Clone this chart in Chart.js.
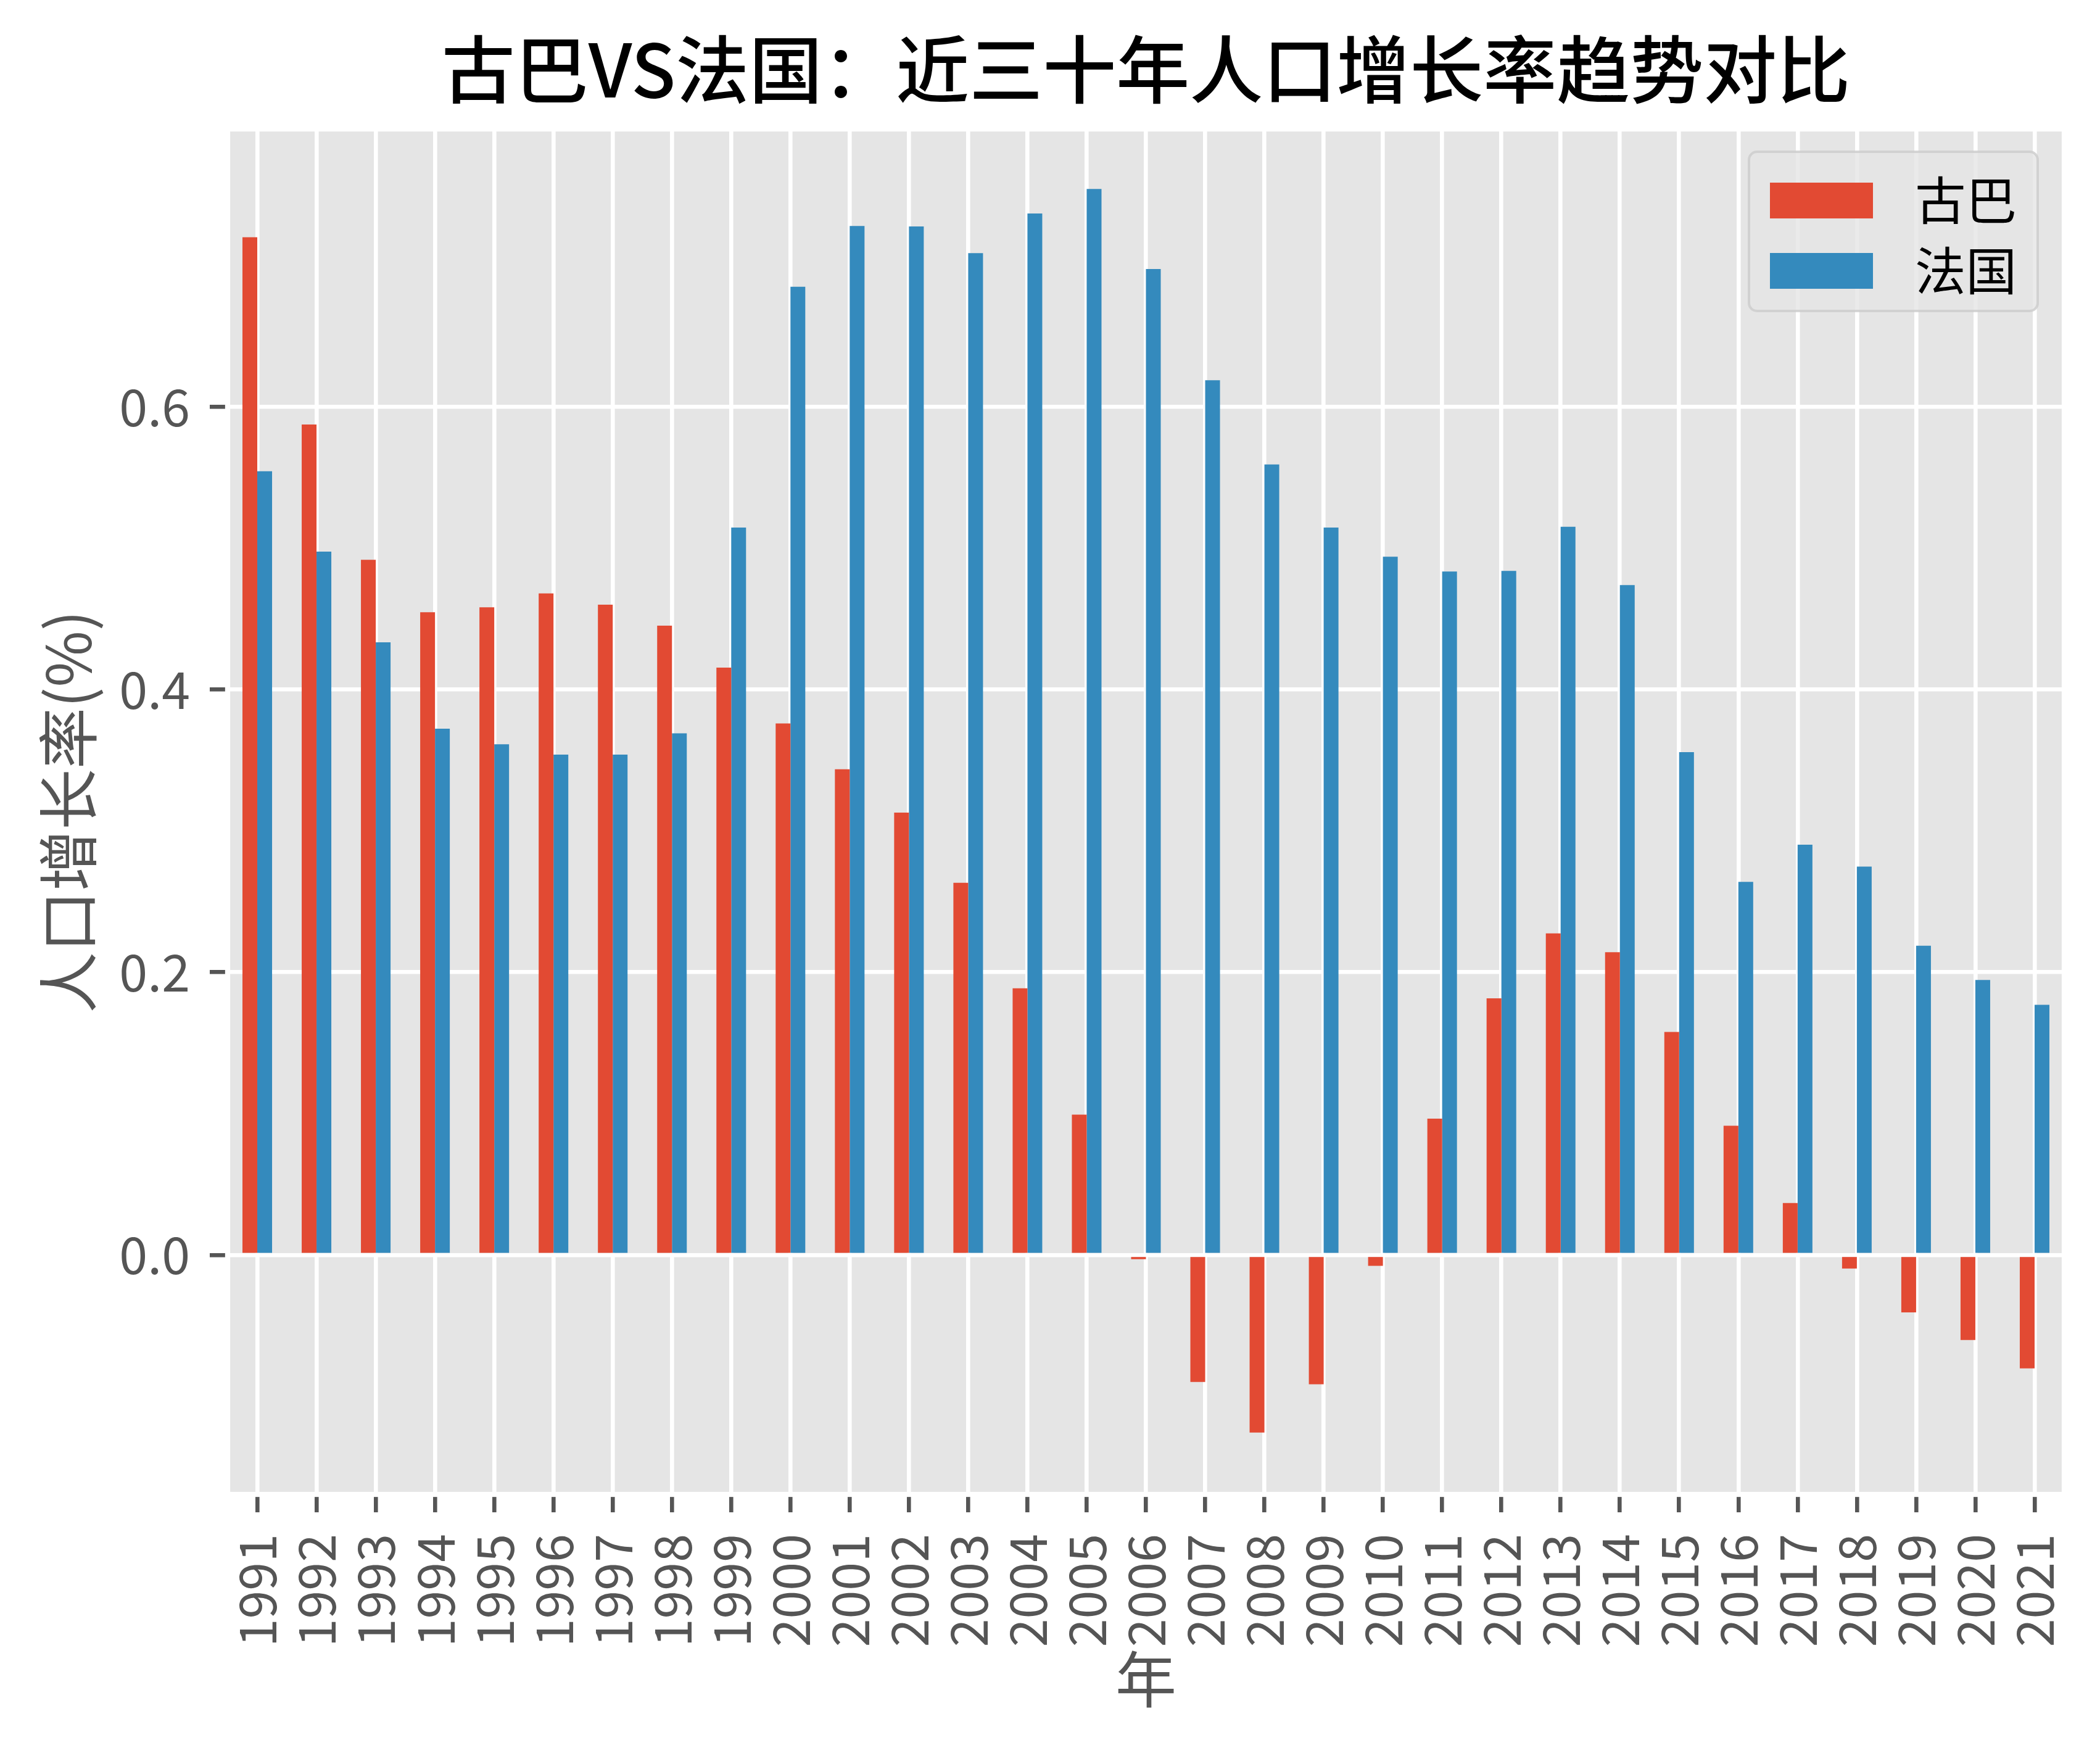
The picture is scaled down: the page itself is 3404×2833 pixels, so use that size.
<!DOCTYPE html>
<html>
<head>
<meta charset="utf-8">
<script src="https://cdn.jsdelivr.net/npm/chart.js@4.4.1/dist/chart.umd.min.js"></script>
<style>
html,body{margin:0;padding:0;background:#ffffff;overflow:hidden}
canvas{display:block}
</style>
</head>
<body>
<canvas id="c" width="3404" height="2833"></canvas>
<script>
// ---------------- data ----------------
const years = ['1991','1992','1993','1994','1995','1996','1997','1998','1999','2000',
               '2001','2002','2003','2004','2005','2006','2007','2008','2009','2010',
               '2011','2012','2013','2014','2015','2016','2017','2018','2019','2020','2021'];
const cubaGrowth = [0.720, 0.5875, 0.4918, 0.4547, 0.4582, 0.4680, 0.4600, 0.4452, 0.4155, 0.3760,
                    0.3436, 0.3129, 0.2633, 0.1887, 0.0993, -0.0030, -0.0898, -0.1256, -0.0915, -0.0077,
                    0.0964, 0.1816, 0.2275, 0.2142, 0.1578, 0.0914, 0.0367, -0.0096, -0.0406, -0.0602, -0.0802];
const franceGrowth = [0.5544, 0.4976, 0.4334, 0.3723, 0.3613, 0.3540, 0.3540, 0.3690, 0.5146, 0.6850,
                      0.7280, 0.7276, 0.7088, 0.7368, 0.7542, 0.6975, 0.6188, 0.5592, 0.5146, 0.4940,
                      0.4835, 0.4839, 0.5152, 0.4739, 0.3557, 0.2639, 0.2902, 0.2747, 0.2188, 0.1945, 0.1770];
const seriesNames = ['古巴', '法国'];
const yTickValues = [0.0, 0.2, 0.4, 0.6];
const yAxisMin = -0.1694;
const yAxisMax = 0.7966;
const chartTitle = '古巴VS法国：近三十年人口增长率趋势对比';
const xAxisTitle = '年';
const yAxisTitle = '人口增长率(%)';

// ---------------- style ----------------
const FAMILY = '"Liberation Sans Narrow", "Noto Sans CJK SC", sans-serif';
const RED = '#E24A33', BLUE = '#348ABD', PANEL = '#E5E5E5', TXT = '#555555';
const GRID_W = 6.6, TICK_LEN = 29;

const panelPlugin = {
  id: 'panel',
  afterLayout(chart) {
    // centre the title over the plotting panel (as matplotlib does)
    const t = chart.titleBlock, a = chart.chartArea;
    if (t && a) { t.left = a.left; t.right = a.right; t.width = a.right - a.left; }
  },
  beforeDraw(chart) {
    const {ctx, chartArea: a} = chart;
    ctx.save();
    ctx.fillStyle = '#ffffff';
    ctx.fillRect(0, 0, chart.width, chart.height);
    ctx.fillStyle = PANEL;
    ctx.fillRect(a.left, a.top, a.right - a.left, a.bottom - a.top);
    ctx.restore();
  },
  beforeDatasetsDraw(chart) {
    const {ctx, chartArea: a} = chart;
    ctx.save();
    ctx.strokeStyle = '#ffffff';
    ctx.lineWidth = 8.26;
    ctx.strokeRect(a.left, a.top, a.right - a.left, a.bottom - a.top);
    ctx.restore();
  }
};

function roundRectPath(ctx, x, y, w, h, r) {
  ctx.beginPath();
  ctx.moveTo(x + r, y);
  ctx.lineTo(x + w - r, y);
  ctx.arcTo(x + w, y, x + w, y + r, r);
  ctx.lineTo(x + w, y + h - r);
  ctx.arcTo(x + w, y + h, x + w - r, y + h, r);
  ctx.lineTo(x + r, y + h);
  ctx.arcTo(x, y + h, x, y + h - r, r);
  ctx.lineTo(x, y + r);
  ctx.arcTo(x, y, x + r, y, r);
  ctx.closePath();
}

const legendPlugin = {
  id: 'boxLegend',
  afterDatasetsDraw(chart) {
    const {ctx, chartArea: a} = chart;
    const bx = a.right - 511, by = a.top + 37, bw = 468, bh = 258;
    ctx.save();
    roundRectPath(ctx, bx, by, bw, bh, 13);
    ctx.fillStyle = 'rgba(229,229,229,0.8)';
    ctx.fill();
    ctx.lineWidth = 4;
    ctx.strokeStyle = 'rgba(204,204,204,0.8)';
    ctx.stroke();
    const rows = [by + 79, by + 193];
    chart.data.datasets.forEach((ds, i) => {
      const cy = rows[i];
      ctx.fillStyle = ds.backgroundColor;
      ctx.fillRect(bx + 34, cy - 29, 167, 58);
      ctx.fillStyle = '#000000';
      ctx.font = '82.6px ' + FAMILY;
      ctx.textAlign = 'left';
      ctx.textBaseline = 'middle';
      ctx.fillText(ds.label, bx + 269, cy);
    });
    ctx.restore();
  }
};

const tickFont = {family: FAMILY, size: 82.6, lineHeight: 1.2};

new Chart(document.getElementById('c'), {
  type: 'bar',
  data: {
    labels: years,
    datasets: [
      {label: seriesNames[0], data: cubaGrowth, backgroundColor: RED, borderWidth: 0,
       categoryPercentage: 0.5, barPercentage: 1.0},
      {label: seriesNames[1], data: franceGrowth, backgroundColor: BLUE, borderWidth: 0,
       categoryPercentage: 0.5, barPercentage: 1.0}
    ]
  },
  options: {
    responsive: false,
    devicePixelRatio: 1,
    animation: false,
    events: [],
    layout: {padding: {left: 0, right: 58, top: 0, bottom: 0}},
    plugins: {
      legend: {display: false},
      tooltip: {enabled: false},
      title: {
        display: true,
        text: chartTitle,
        color: '#000000',
        font: {family: FAMILY, size: 119, weight: '500', lineHeight: 1},
        padding: {top: 53.5, bottom: 36.5}
      }
    },
    scales: {
      x: {
        type: 'category',
        offset: true,
        afterFit(s) { s.height = 411; s.paddingLeft = 0; s.paddingRight = 0; },
        grid: {offset: false, color: '#ffffff', lineWidth: GRID_W, drawTicks: true,
               tickLength: TICK_LEN, tickColor: TXT, tickWidth: GRID_W},
        border: {display: false},
        ticks: {color: TXT, font: tickFont, padding: 35, minRotation: 90, maxRotation: 90, autoSkip: false},
        title: {display: true, text: xAxisTitle, color: TXT,
                font: {family: FAMILY, size: 99, lineHeight: 1}, padding: {top: 0, bottom: 62.5}}
      },
      y: {
        type: 'linear',
        min: yAxisMin,
        max: yAxisMax,
        afterBuildTicks(s) { s.ticks = yTickValues.map(v => ({value: v})); },
        afterFit(s) { s.width = 369; s.paddingTop = 0; s.paddingBottom = 0; },
        grid: {color: '#ffffff', lineWidth: GRID_W, drawTicks: true,
               tickLength: TICK_LEN, tickColor: TXT, tickWidth: GRID_W},
        border: {display: false},
        ticks: {color: TXT, font: tickFont, padding: 32, callback: v => Number(v).toFixed(1)},
        title: {display: true, text: yAxisTitle, color: TXT,
                font: {family: FAMILY, size: 99, lineHeight: 1}, padding: {top: 60.5, bottom: 0}}
      }
    }
  },
  plugins: [panelPlugin, legendPlugin]
});
</script>
</body>
</html>
